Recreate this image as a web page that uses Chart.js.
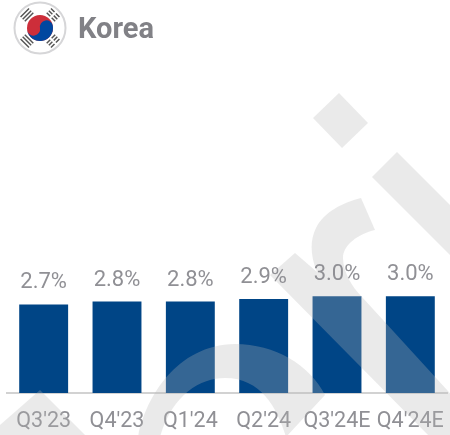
<!DOCTYPE html>
<html><head><meta charset="utf-8">
<style>
html,body{margin:0;padding:0;background:#fff;width:450px;height:435px;overflow:hidden}
#wrap{position:relative;width:450px;height:435px}
canvas{position:absolute;left:0;top:0}
#flag{position:absolute;left:13px;top:1px}
#title{position:absolute;left:78px;top:13px;font:700 29px/30px Roboto,sans-serif;color:#818186}
</style>
<script src="https://cdn.jsdelivr.net/npm/chart.js@4"></script>
</head><body>
<div id="wrap">
<canvas id="c" width="450" height="435"></canvas>
<svg id="flag" width="54" height="54" viewBox="0 0 54 54">
<circle cx="27" cy="27" r="25.500" fill="#fff" stroke="#d6d6d8" stroke-width="2"/>
<circle cx="27" cy="27" r="13" fill="#cd2e3a"/>
<path d="M14 27a13 13 0 0 0 26 0a6.500 6.500 0 0 0-13 0a6.500 6.500 0 0 1-13 0z" fill="#0047a0" transform="rotate(-10 27 27)"/>
<g stroke="#555" stroke-width="1.500" fill="none">
<g transform="rotate(-45 27 27)"><path d="M21 5.500h12M21 8.500h12M21 11.500h12"/></g>
<g transform="rotate(45 27 27)"><path d="M21 5.500h12M21 8.500h12M21 11.500h12" stroke-dasharray="5 2"/></g>
<g transform="rotate(45 27 27)"><path d="M21 42.500h12M21 45.500h12M21 48.500h12"/></g>
<g transform="rotate(-45 27 27)"><path d="M21 42.500h12M21 45.500h12M21 48.500h12" stroke-dasharray="5 2"/></g>
</g>
</svg>
<div id="title">Korea</div>
</div>
<script>
const categories = ["Q3'23","Q4'23","Q1'24","Q2'24","Q3'24E","Q4'24E"];
const values = [2.75,2.84,2.84,2.92,3.0,3.0];
const valueLabels = ["2.7%","2.8%","2.8%","2.9%","3.0%","3.0%"];
const barColor = "#004586";
const textColor = "#909095";

const watermarkPaths = [
 "M339 93L368 123L342 148L313 118Z",
 "M397 152L460 215L460 265L372 177Z",
 "M361 198L375 230C358 234 343 245 343 258C343 272 352 287 362 297L490 437L430 437L270 275L295 253L317 272C310 255 310 240 316 228C324 212 342 203 361 198Z",
 "M40 390L87 437L0 437L0 425Z",
 "M138 437C145 400 175 345 235 344C275 344 310 365 325 395L286 437C278 410 262 378 225 378C200 378 172 395 160 437Z"
];
const watermark = {
  id:"watermark",
  afterDatasetsDraw(chart){
    const ctx = chart.ctx;
    ctx.save();
    ctx.fillStyle = "rgba(182,182,182,0.29)";
    const all = new Path2D();
    watermarkPaths.forEach(d => all.addPath(new Path2D(d)));
    ctx.fill(all,"nonzero");
    ctx.restore();
  }
};
const barLabels = {
  id:"barLabels",
  afterDraw(chart){
    const ctx = chart.ctx;
    ctx.save();
    ctx.font = "400 22px Roboto, sans-serif";
    ctx.fillStyle = textColor;
    ctx.textAlign = "center";
    ctx.textBaseline = "alphabetic";
    chart.getDatasetMeta(0).data.forEach((b,i)=>{
      ctx.fillText(valueLabels[i], b.x, b.y - 16);
    });
    ctx.restore();
  }
};
new Chart(document.getElementById("c"),{
  type:"bar",
  data:{labels:categories,datasets:[{data:values,backgroundColor:barColor,barPercentage:0.667,categoryPercentage:1}]},
  options:{
    responsive:false,animation:false,
    layout:{padding:{left:7,right:3,top:0,bottom:0}},
    plugins:{legend:{display:false},tooltip:{enabled:false}},
    scales:{
      x:{grid:{display:false,drawTicks:false},border:{color:"#d2d2d2",width:2},
         afterFit(s){s.height=42;s.paddingLeft=0;s.paddingRight=0;},
         ticks:{color:textColor,font:{family:"Roboto, sans-serif",size:21.5,weight:"400"},padding:16,maxRotation:0,autoSkip:false}},
      y:{display:false,min:0,max:12.2}
    }
  },
  plugins:[watermark,barLabels]
});
</script>
</body></html>
